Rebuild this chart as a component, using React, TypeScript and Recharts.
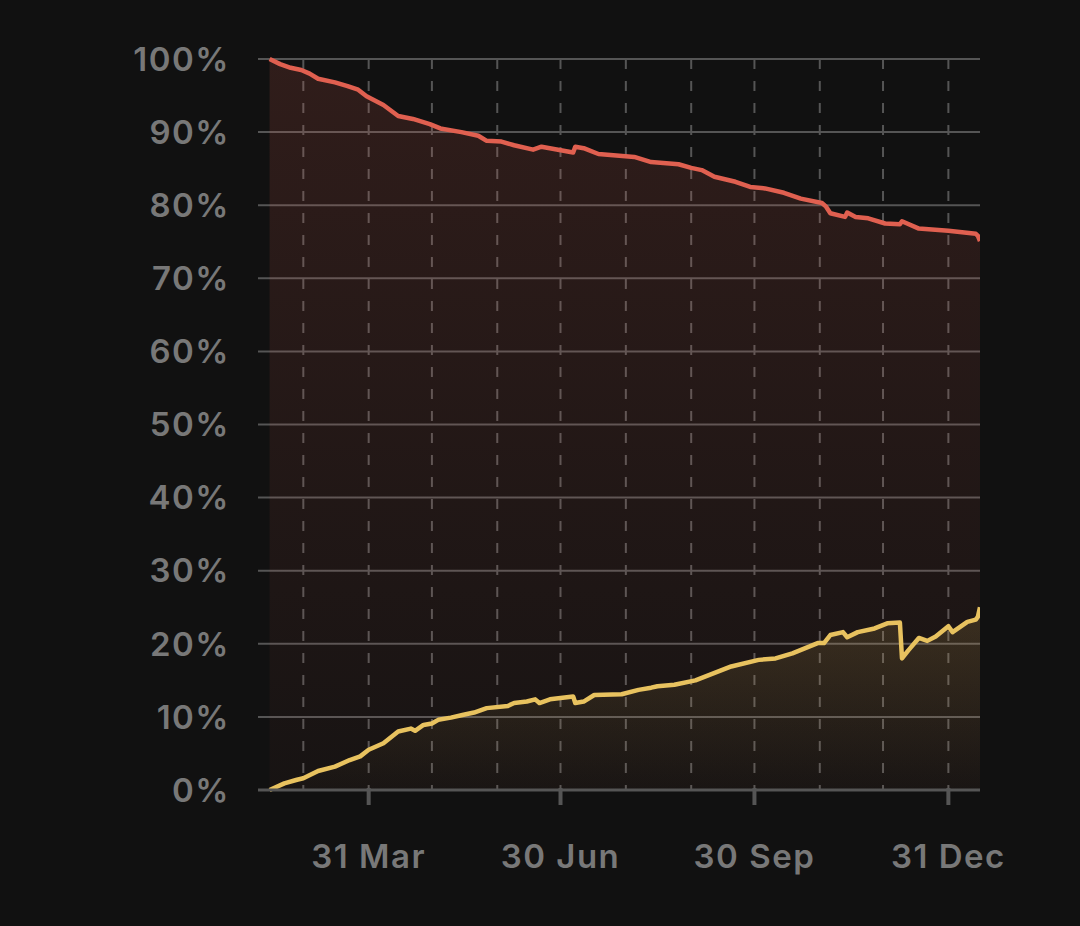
import React from "react";
import { ComposedChart, Area, XAxis, YAxis, CartesianGrid } from "recharts";

// days counted from 12 Feb
const redDay = [0, 5, 10, 15, 19, 23, 31, 37, 42, 46, 54, 61, 68, 76, 81, 91, 99, 103, 110, 116, 125, 129, 144, 145, 149, 156, 173, 181, 194, 200, 205, 211, 221, 228, 235, 244, 252, 262, 264, 266, 273, 274, 278, 284, 292, 299, 300, 308, 322, 335, 336, 337];
const redPct = [100, 99.3, 98.8, 98.5, 98.0, 97.3, 96.8, 96.3, 95.8, 94.9, 93.7, 92.2, 91.8, 91.1, 90.5, 90.0, 89.5, 88.8, 88.7, 88.2, 87.6, 88.0, 87.2, 88.0, 87.8, 87.0, 86.6, 85.9, 85.6, 85.1, 84.8, 83.9, 83.2, 82.5, 82.3, 81.7, 80.9, 80.3, 79.8, 78.9, 78.4, 79.0, 78.4, 78.2, 77.5, 77.4, 77.8, 76.8, 76.5, 76.1, 75.8, 75.1];

const goldDay = [0, 7, 13, 16, 23, 31, 38, 43, 47, 54, 61, 67, 69, 73, 77, 80, 86, 92, 97, 103, 113, 116, 122, 126, 128, 133, 144, 145, 149, 154, 167, 175, 181, 184, 192, 202, 219, 232, 240, 248, 260, 263, 266, 272, 274, 279, 287, 293, 299, 300, 303, 308, 312, 316, 322, 324, 331, 335, 336, 337];
const goldPct = [0, 0.9, 1.4, 1.6, 2.6, 3.2, 4.1, 4.6, 5.5, 6.4, 8.0, 8.4, 8.1, 8.9, 9.1, 9.6, 9.9, 10.3, 10.6, 11.2, 11.5, 11.9, 12.1, 12.4, 11.9, 12.4, 12.8, 11.9, 12.1, 13.0, 13.1, 13.7, 14.0, 14.2, 14.4, 15.0, 16.9, 17.8, 18.0, 18.7, 20.1, 20.1, 21.2, 21.6, 20.9, 21.6, 22.1, 22.8, 22.9, 18.0, 19.1, 20.8, 20.4, 21.0, 22.4, 21.6, 23.0, 23.3, 23.7, 25.0];

const monthEndDay = [16, 47, 77, 108, 138, 169, 200, 230, 261, 291, 322];
const monthEndLabel = ["", "31 Mar", "", "", "30 Jun", "", "", "30 Sep", "", "", "31 Dec"];
const yTicks = [0, 10, 20, 30, 40, 50, 60, 70, 80, 90, 100];

const redData = redDay.map((d, i) => ({ day: d, red: redPct[i] }));
const goldData = goldDay.map((d, i) => ({ day: d, gold: goldPct[i] }));

const textStyle = { fontFamily: "Inter", fontWeight: 600, fontSize: 33, fill: "#787878", letterSpacing: 1.5 };

function DateTick(props: any) {
  const { x, y, payload } = props;
  const idx = monthEndDay.indexOf(payload.value);
  const label = monthEndLabel[idx];
  if (!label) return null;
  return (
    <g>
      <rect x={x - 2} y={y - 2} width={4} height={17} fill="#555" />
      <text x={x} y={y + 78} textAnchor="middle" {...textStyle}>
        {label}
      </text>
    </g>
  );
}

export default function App() {
  return (
    <div style={{ position: "fixed", left: 0, top: 0, width: 1080, height: 926, background: "#111111" }}>
      <ComposedChart width={1080} height={926} margin={{ top: 59, right: 100, bottom: 0, left: 0 }}>
        <defs>
          <linearGradient id="redFill" x1="0" y1="0" x2="0" y2="1">
            <stop offset="0%" stopColor="#e06050" stopOpacity={0.15} />
            <stop offset="100%" stopColor="#e06050" stopOpacity={0.03} />
          </linearGradient>
          <linearGradient id="goldFill" x1="0" y1="0" x2="0" y2="1">
            <stop offset="0%" stopColor="#e8c25f" stopOpacity={0.15} />
            <stop offset="100%" stopColor="#e8c25f" stopOpacity={0.01} />
          </linearGradient>
        </defs>
        <CartesianGrid horizontal vertical={false} stroke="#555" strokeWidth={2} />
        <CartesianGrid horizontal={false} vertical syncWithTicks stroke="#555" strokeWidth={2} strokeDasharray="10 12" />
        <XAxis
          dataKey="day"
          type="number"
          domain={[-5.5, 337]}
          ticks={monthEndDay}
          allowDataOverflow
          tick={<DateTick />}
          tickLine={false}
          tickSize={0}
          tickMargin={0}
          axisLine={{ stroke: "#555", strokeWidth: 3 }}
          height={136}
        />
        <YAxis
          type="number"
          domain={[0, 100]}
          ticks={yTicks}
          tickFormatter={(v) => `${v}%`}
          axisLine={false}
          tickLine={false}
          tickSize={6}
          tickMargin={22}
          width={258}
          tick={textStyle}
        />
        <Area
          data={redData}
          dataKey="red"
          type="linear"
          stroke="#e06050"
          strokeWidth={4.5}
          strokeLinejoin="round"
          fill="url(#redFill)"
          fillOpacity={1}
          isAnimationActive={false}
          dot={false}
          activeDot={false}
        />
        <Area
          data={goldData}
          dataKey="gold"
          type="linear"
          stroke="#e8c25f"
          strokeWidth={4.5}
          strokeLinejoin="round"
          fill="url(#goldFill)"
          fillOpacity={1}
          isAnimationActive={false}
          dot={false}
          activeDot={false}
        />
      </ComposedChart>
    </div>
  );
}
